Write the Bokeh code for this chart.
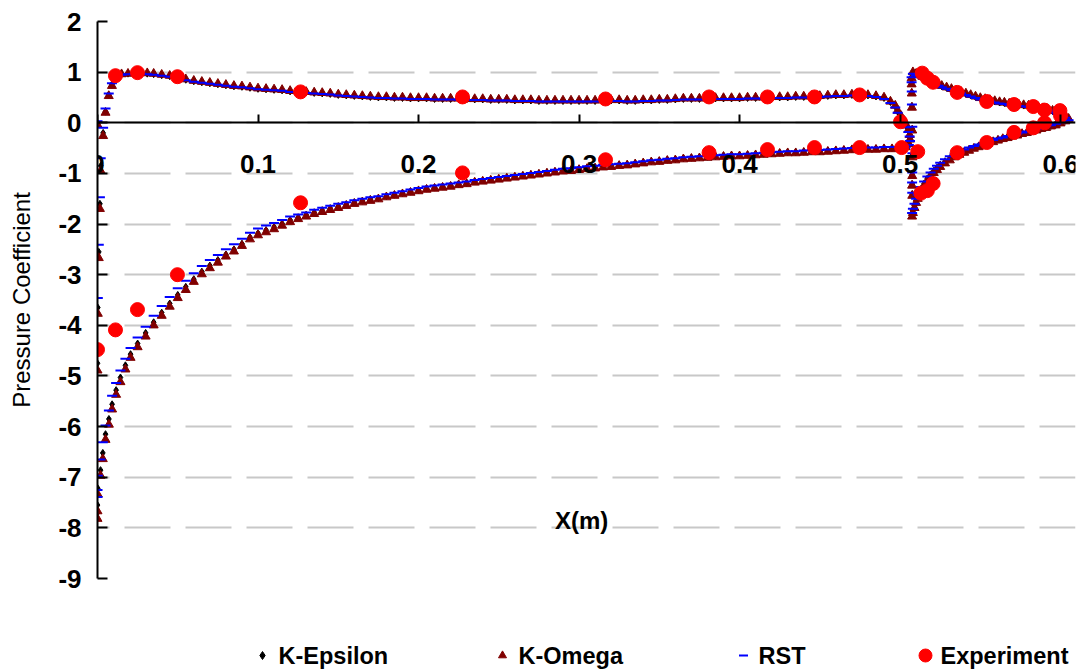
from bokeh.plotting import figure
from bokeh.models import Range1d, FixedTicker, Label
from bokeh.layouts import column
from bokeh.embed import file_html
from bokeh.resources import INLINE
from bokeh.core.properties import value

# ---------------------------------------------------------------------------
# Pressure coefficient along the main element and the flap (x in metres)
# ---------------------------------------------------------------------------

series_names = ["K-Epsilon", "K-Omega", "RST", "Experiment"]

x_ticks = [0, 0.1, 0.2, 0.3, 0.4, 0.5, 0.6]
x_tick_labels = ["0", "0.1", "0.2", "0.3", "0.4", "0.5", "0.6"]
y_ticks = [-9, -8, -7, -6, -5, -4, -3, -2, -1, 0, 1, 2]
y_tick_labels = ["-9", "-8", "-7", "-6", "-5", "-4", "-3", "-2", "-1", "0", "1", "2"]

# main element, pressure side (positive Cp branch)
upper_x = [0.0, 0.005, 0.007, 0.009, 0.012, 0.015, 0.019, 0.023, 0.027, 0.031, 0.035,
           0.04, 0.045, 0.05, 0.055, 0.06, 0.065, 0.07, 0.075, 0.08, 0.085,
           0.09, 0.095, 0.1, 0.105, 0.11, 0.115, 0.12, 0.125, 0.13, 0.135,
           0.14, 0.145, 0.15, 0.155, 0.16, 0.165, 0.17, 0.175, 0.18, 0.185,
           0.19, 0.195, 0.2, 0.205, 0.21, 0.215, 0.22, 0.225, 0.23, 0.235,
           0.24, 0.245, 0.25, 0.255, 0.26, 0.265, 0.27, 0.275, 0.28, 0.285,
           0.29, 0.295, 0.3, 0.305, 0.31, 0.315, 0.32, 0.325, 0.33, 0.335,
           0.34, 0.345, 0.35, 0.355, 0.36, 0.365, 0.37, 0.375, 0.38, 0.385,
           0.39, 0.395, 0.4, 0.405, 0.41, 0.415, 0.42, 0.425, 0.43, 0.435,
           0.44, 0.445, 0.45, 0.455, 0.46, 0.465, 0.47, 0.475, 0.48, 0.485,
           0.49, 0.494, 0.497]
kw_upper = [-0.04, 0.20, 0.53, 0.73, 0.93, 0.96, 0.97, 0.99, 0.99, 0.98, 0.97,
            0.95, 0.93, 0.90, 0.86, 0.83, 0.81, 0.79, 0.77, 0.75, 0.73,
            0.72, 0.70, 0.68, 0.67, 0.66, 0.65, 0.63, 0.62, 0.61, 0.60,
            0.59, 0.58, 0.56, 0.55, 0.54, 0.53, 0.52, 0.51, 0.51, 0.50,
            0.50, 0.49, 0.49, 0.49, 0.48, 0.48, 0.48, 0.48, 0.47, 0.47,
            0.47, 0.46, 0.46, 0.46, 0.45, 0.45, 0.45, 0.44, 0.44, 0.44,
            0.44, 0.44, 0.44, 0.44, 0.44, 0.45, 0.45, 0.45, 0.44, 0.44,
            0.45, 0.45, 0.46, 0.46, 0.47, 0.48, 0.48, 0.48, 0.49, 0.49,
            0.49, 0.49, 0.49, 0.50, 0.50, 0.50, 0.51, 0.51, 0.51, 0.52,
            0.52, 0.53, 0.53, 0.54, 0.55, 0.55, 0.56, 0.56, 0.55, 0.53,
            0.50, 0.42, 0.34]
rst_upper = [0.03, 0.28, 0.58, 0.78, 0.92, 0.95, 0.96, 0.97, 0.97, 0.96, 0.95,
             0.93, 0.91, 0.88, 0.84, 0.81, 0.79, 0.77, 0.75, 0.73, 0.71,
             0.70, 0.68, 0.66, 0.65, 0.64, 0.63, 0.61, 0.60, 0.59, 0.58,
             0.57, 0.56, 0.54, 0.53, 0.52, 0.51, 0.50, 0.49, 0.49, 0.48,
             0.48, 0.47, 0.47, 0.47, 0.46, 0.46, 0.46, 0.46, 0.45, 0.45,
             0.45, 0.44, 0.44, 0.44, 0.43, 0.43, 0.43, 0.42, 0.42, 0.42,
             0.42, 0.42, 0.42, 0.42, 0.42, 0.43, 0.43, 0.43, 0.42, 0.42,
             0.43, 0.43, 0.44, 0.44, 0.45, 0.46, 0.46, 0.46, 0.47, 0.47,
             0.47, 0.47, 0.47, 0.48, 0.48, 0.48, 0.49, 0.49, 0.49, 0.50,
             0.50, 0.51, 0.51, 0.52, 0.53, 0.53, 0.54, 0.54, 0.53, 0.51,
             0.47, 0.39, 0.30]
ke_upper = [-0.02, 0.22, 0.55, 0.75, 0.93, 0.96, 0.97, 0.98, 0.98, 0.97, 0.96,
            0.94, 0.92, 0.89, 0.85, 0.82, 0.80, 0.78, 0.76, 0.74, 0.72,
            0.71, 0.69, 0.67, 0.66, 0.65, 0.64, 0.62, 0.61, 0.60, 0.59,
            0.58, 0.57, 0.55, 0.54, 0.53, 0.52, 0.51, 0.50, 0.50, 0.49,
            0.49, 0.48, 0.48, 0.48, 0.47, 0.47, 0.47, 0.47, 0.46, 0.46,
            0.46, 0.45, 0.45, 0.45, 0.44, 0.44, 0.44, 0.43, 0.43, 0.43,
            0.43, 0.43, 0.43, 0.43, 0.43, 0.44, 0.44, 0.44, 0.43, 0.43,
            0.44, 0.44, 0.45, 0.45, 0.46, 0.47, 0.47, 0.47, 0.48, 0.48,
            0.48, 0.48, 0.48, 0.49, 0.49, 0.49, 0.50, 0.50, 0.50, 0.51,
            0.51, 0.52, 0.52, 0.53, 0.54, 0.54, 0.55, 0.55, 0.54, 0.52,
            0.49, 0.41, 0.32]

# main element, suction side (leading-edge peak, then recovery)
lower_x = [0.0035, 0.002, 0.0015, 0.0008, 0.0002, 0.0, 0.0, 0.0, 0.0002, 0.0019,
           0.0033, 0.005, 0.0071, 0.0091, 0.0116, 0.0143, 0.0174, 0.0206,
           0.025, 0.03, 0.035, 0.04, 0.045, 0.05, 0.055, 0.06, 0.065, 0.07,
           0.075, 0.08, 0.085, 0.09, 0.095, 0.1, 0.105, 0.11, 0.115, 0.12,
           0.125, 0.13, 0.135, 0.14, 0.145, 0.15, 0.155, 0.16, 0.165, 0.17,
           0.175, 0.18, 0.185, 0.19, 0.195, 0.2, 0.205, 0.21, 0.215, 0.22,
           0.225, 0.23, 0.235, 0.24, 0.245, 0.25, 0.255, 0.26, 0.265, 0.27,
           0.275, 0.28, 0.285, 0.29, 0.295, 0.3, 0.305, 0.31, 0.315, 0.32,
           0.325, 0.33, 0.335, 0.34, 0.345, 0.35, 0.355, 0.36, 0.365, 0.37,
           0.375, 0.38, 0.385, 0.39, 0.395, 0.4, 0.405, 0.41, 0.415, 0.42,
           0.425, 0.43, 0.435, 0.44, 0.445, 0.45, 0.455, 0.46, 0.465, 0.47,
           0.475, 0.48, 0.485, 0.49, 0.495, 0.5]
kw_lower = [-0.26, -0.95, -1.70, -2.67, -3.77, -4.89, -7.82, -7.67, -7.34, -6.97,
            -6.64, -6.26, -5.96, -5.66, -5.37, -5.12, -4.87, -4.64,
            -4.43, -4.22, -4.00, -3.81, -3.63, -3.46, -3.30, -3.14, -2.99, -2.87,
            -2.76, -2.64, -2.54, -2.43, -2.30, -2.22, -2.16, -2.10, -2.03, -1.96,
            -1.90, -1.85, -1.80, -1.76, -1.72, -1.68, -1.64, -1.60, -1.57, -1.54,
            -1.51, -1.47, -1.44, -1.41, -1.38, -1.35, -1.32, -1.30, -1.28, -1.26,
            -1.23, -1.21, -1.18, -1.16, -1.14, -1.12, -1.10, -1.08, -1.06, -1.04,
            -1.02, -1.00, -0.98, -0.96, -0.95, -0.93, -0.91, -0.90, -0.88, -0.87,
            -0.85, -0.84, -0.82, -0.80, -0.78, -0.77, -0.75, -0.74, -0.72, -0.71,
            -0.70, -0.69, -0.68, -0.67, -0.66, -0.66, -0.65, -0.64, -0.63, -0.62,
            -0.61, -0.60, -0.60, -0.59, -0.58, -0.58, -0.57, -0.56, -0.55, -0.54,
            -0.54, -0.53, -0.53, -0.52, -0.52, -0.51]
rst_lower = [-0.10, -0.70, -1.47, -2.41, -3.46, -4.45, -7.39, -7.25, -6.97, -6.65,
             -6.31, -5.98, -5.68, -5.39, -5.14, -4.89, -4.66, -4.45,
             -4.24, -4.03, -3.81, -3.62, -3.44, -3.27, -3.12, -2.97, -2.83, -2.71,
             -2.61, -2.50, -2.40, -2.29, -2.17, -2.09, -2.03, -1.98, -1.92, -1.85,
             -1.81, -1.77, -1.72, -1.68, -1.64, -1.60, -1.57, -1.53, -1.50, -1.47,
             -1.45, -1.41, -1.38, -1.35, -1.32, -1.29, -1.26, -1.24, -1.22, -1.20,
             -1.18, -1.16, -1.13, -1.11, -1.09, -1.07, -1.05, -1.03, -1.01, -0.99,
             -0.97, -0.95, -0.93, -0.91, -0.90, -0.88, -0.86, -0.85, -0.83, -0.82,
             -0.81, -0.80, -0.78, -0.76, -0.74, -0.73, -0.71, -0.70, -0.68, -0.67,
             -0.66, -0.65, -0.64, -0.63, -0.62, -0.62, -0.61, -0.60, -0.59, -0.58,
             -0.57, -0.56, -0.56, -0.55, -0.54, -0.54, -0.53, -0.52, -0.51, -0.50,
             -0.50, -0.49, -0.49, -0.48, -0.48, -0.47]
ke_lower = [-0.20, -0.85, -1.60, -2.55, -3.65, -4.75, -7.70, -7.55, -7.22, -6.86,
            -6.52, -6.15, -5.85, -5.56, -5.28, -5.03, -4.79, -4.57,
            -4.36, -4.15, -3.94, -3.75, -3.57, -3.40, -3.24, -3.09, -2.94, -2.82,
            -2.71, -2.60, -2.50, -2.39, -2.26, -2.18, -2.12, -2.06, -1.99, -1.92,
            -1.87, -1.82, -1.77, -1.73, -1.69, -1.65, -1.61, -1.57, -1.54, -1.51,
            -1.49, -1.45, -1.42, -1.39, -1.36, -1.33, -1.30, -1.28, -1.26, -1.24,
            -1.21, -1.19, -1.16, -1.14, -1.12, -1.10, -1.08, -1.06, -1.04, -1.02,
            -1.00, -0.98, -0.96, -0.94, -0.93, -0.91, -0.89, -0.88, -0.86, -0.85,
            -0.83, -0.82, -0.80, -0.78, -0.76, -0.75, -0.73, -0.72, -0.70, -0.69,
            -0.68, -0.67, -0.66, -0.65, -0.64, -0.64, -0.63, -0.62, -0.61, -0.60,
            -0.59, -0.58, -0.58, -0.57, -0.56, -0.56, -0.55, -0.54, -0.53, -0.52,
            -0.52, -0.51, -0.51, -0.50, -0.50, -0.49]

# main element, blunt trailing edge
te_x = [0.4985, 0.5005, 0.5025, 0.504, 0.5052, 0.506, 0.5062, 0.5055, 0.5035]
kw_te = [0.24, 0.14, 0.04, -0.05, -0.14, -0.24, -0.33, -0.42, -0.48]
rst_te = [0.20, 0.10, 0.00, -0.09, -0.18, -0.27, -0.36, -0.44, -0.49]
ke_te = [0.22, 0.12, 0.02, -0.07, -0.16, -0.25, -0.34, -0.43, -0.48]

# flap leading edge
flap_le_x = [0.5072, 0.5072, 0.5073, 0.5074, 0.5076, 0.5077, 0.5076, 0.5075, 0.5076]
kw_flap_le = [0.88, 0.76, 0.58, 0.30, -0.15, -0.68, -1.05, -1.24, -1.44]
rst_flap_le = [0.90, 0.80, 0.62, 0.36, -0.08, -0.60, -0.98, -1.18, -1.38]
ke_flap_le = [0.89, 0.78, 0.60, 0.33, -0.12, -0.64, -1.02, -1.21, -1.41]

# flap, pressure side
flap_up_x = [0.508, 0.51, 0.512, 0.514, 0.516, 0.518, 0.52, 0.522, 0.524, 0.526,
             0.529, 0.532, 0.535, 0.538, 0.541, 0.544, 0.547, 0.55, 0.553, 0.556,
             0.559, 0.562, 0.565, 0.568, 0.571, 0.574, 0.577, 0.58, 0.583, 0.586,
             0.589, 0.592, 0.595, 0.598, 0.601, 0.603, 0.605]
kw_flap_up = [1.00, 0.97, 0.94, 0.91, 0.88, 0.85, 0.82, 0.79, 0.76, 0.73,
              0.70, 0.67, 0.64, 0.61, 0.58, 0.55, 0.52, 0.49, 0.47, 0.45,
              0.43, 0.41, 0.40, 0.38, 0.37, 0.36, 0.35, 0.34, 0.33, 0.31,
              0.29, 0.27, 0.24, 0.21, 0.17, 0.13, 0.08]
rst_flap_up = [0.97, 0.94, 0.91, 0.88, 0.85, 0.82, 0.79, 0.76, 0.73, 0.70,
               0.67, 0.64, 0.61, 0.58, 0.55, 0.52, 0.49, 0.46, 0.44, 0.42,
               0.40, 0.38, 0.37, 0.35, 0.34, 0.33, 0.32, 0.31, 0.30, 0.28,
               0.26, 0.24, 0.21, 0.18, 0.14, 0.10, 0.05]
ke_flap_up = [0.99, 0.96, 0.93, 0.90, 0.87, 0.84, 0.81, 0.78, 0.75, 0.72,
              0.69, 0.66, 0.63, 0.60, 0.57, 0.54, 0.51, 0.48, 0.46, 0.44,
              0.42, 0.40, 0.39, 0.37, 0.36, 0.35, 0.34, 0.33, 0.32, 0.30,
              0.28, 0.26, 0.23, 0.20, 0.16, 0.12, 0.07]

# flap, suction side
flap_lo_x = [0.5075, 0.508, 0.509, 0.51, 0.511, 0.512, 0.513, 0.515, 0.517, 0.519,
             0.521, 0.523, 0.525, 0.528, 0.531, 0.534, 0.537, 0.54, 0.543, 0.546,
             0.549, 0.552, 0.555, 0.558, 0.561, 0.564, 0.567, 0.57, 0.573, 0.576,
             0.579, 0.582, 0.585, 0.588, 0.591, 0.594, 0.597, 0.6, 0.603]
kw_flap_lo = [-1.85, -1.78, -1.68, -1.58, -1.50, -1.42, -1.35, -1.24, -1.14, -1.06,
              -0.99, -0.93, -0.87, -0.80, -0.74, -0.68, -0.63, -0.59, -0.55, -0.51,
              -0.48, -0.45, -0.41, -0.38, -0.35, -0.32, -0.30, -0.27, -0.25, -0.22,
              -0.20, -0.17, -0.15, -0.12, -0.10, -0.07, -0.05, -0.01, 0.03]
rst_flap_lo = [-1.78, -1.70, -1.60, -1.50, -1.42, -1.34, -1.27, -1.16, -1.06, -0.98,
               -0.91, -0.85, -0.79, -0.72, -0.66, -0.61, -0.57, -0.53, -0.49, -0.46,
               -0.43, -0.40, -0.37, -0.34, -0.31, -0.29, -0.26, -0.24, -0.21, -0.19,
               -0.17, -0.14, -0.12, -0.10, -0.07, -0.05, -0.02, 0.01, 0.05]
ke_flap_lo = [-1.82, -1.74, -1.64, -1.54, -1.46, -1.38, -1.31, -1.20, -1.10, -1.02,
              -0.95, -0.89, -0.83, -0.76, -0.70, -0.65, -0.60, -0.56, -0.52, -0.49,
              -0.46, -0.43, -0.39, -0.36, -0.33, -0.31, -0.28, -0.26, -0.23, -0.21,
              -0.19, -0.16, -0.14, -0.11, -0.09, -0.06, -0.04, 0.00, 0.04]

# wind-tunnel pressure taps
exp_x = [0.0, 0.0112, 0.0249, 0.0498, 0.1265, 0.2274, 0.3165, 0.381, 0.4174, 0.4467,
         0.4748, 0.501, 0.511,
         0.0112, 0.0249, 0.0498, 0.1265, 0.2274, 0.3165, 0.381, 0.4174, 0.4467,
         0.4748, 0.5003,
         0.5138, 0.517, 0.5206, 0.5356, 0.554, 0.571, 0.583, 0.59, 0.5996, 0.6,
         0.59, 0.583, 0.571, 0.554, 0.5356, 0.5206, 0.517, 0.513]
exp_cp = [-4.48, -4.09, -3.69, -3.00, -1.58, -0.99, -0.73, -0.59, -0.53, -0.49,
          -0.49, -0.49, -0.57,
          0.93, 0.99, 0.91, 0.61, 0.51, 0.47, 0.51, 0.51, 0.51,
          0.55, 0.02,
          0.98, 0.88, 0.80, 0.60, 0.42, 0.36, 0.32, 0.25, 0.24, 0.14,
          0.00, -0.10, -0.19, -0.39, -0.59, -1.20, -1.34, -1.39]

segments = [
    (upper_x, ke_upper, kw_upper, rst_upper),
    (lower_x, ke_lower, kw_lower, rst_lower),
    (te_x, ke_te, kw_te, rst_te),
    (flap_le_x, ke_flap_le, kw_flap_le, rst_flap_le),
    (flap_up_x, ke_flap_up, kw_flap_up, rst_flap_up),
    (flap_lo_x, ke_flap_lo, kw_flap_lo, rst_flap_lo),
]
for seg in segments:
    assert all(len(s) == len(seg[0]) for s in seg), [len(s) for s in seg]
assert len(exp_x) == len(exp_cp)

cfd_x, ke_cp, kw_cp, rst_cp = [], [], [], []
for xs, ke, kw, rst in segments:
    cfd_x += xs
    ke_cp += ke
    kw_cp += kw
    rst_cp += rst

FONT = "Liberation Sans"
TICK_SIZE = "26px"
LEFT, RIGHT = 97, 6

# ---------------------------------------------------------------------------
# main chart
# ---------------------------------------------------------------------------
p = figure(width=1081, height=642,
           x_range=Range1d(0, 0.6093), y_range=Range1d(-9, 2),
           output_backend="svg", toolbar_location=None,
           min_border_left=LEFT, min_border_right=RIGHT,
           min_border_top=21, min_border_bottom=64)
p.outline_line_color = None
p.background_fill_color = "white"
p.border_fill_color = "white"

# x axis crosses at Cp = 0
p.xaxis.fixed_location = 0
p.xaxis.ticker = FixedTicker(ticks=x_ticks)
p.xaxis.major_label_overrides = dict(zip(x_ticks, x_tick_labels))
p.xaxis.major_tick_in = 8
p.xaxis.major_tick_out = 0
p.xaxis.major_label_standoff = 32

p.yaxis.ticker = FixedTicker(ticks=y_ticks)
p.yaxis.major_label_overrides = dict(zip(y_ticks, y_tick_labels))
p.yaxis.major_tick_in = 10
p.yaxis.major_tick_out = 0
p.yaxis.major_label_standoff = 16
p.yaxis.axis_label = "Pressure Coefficient"
p.yaxis.axis_label_text_font = FONT
p.yaxis.axis_label_text_font_size = "24px"
p.yaxis.axis_label_text_font_style = "normal"
p.yaxis.axis_label_text_color = "black"
p.yaxis.axis_label_standoff = 20

for ax in (p.xaxis, p.yaxis):
    ax.minor_tick_in = 0
    ax.minor_tick_out = 0
    ax.axis_line_width = 2
    ax.axis_line_color = "black"
    ax.major_tick_line_width = 2
    ax.major_tick_line_color = "black"
    ax.major_label_text_font = FONT
    ax.major_label_text_font_size = TICK_SIZE
    ax.major_label_text_font_style = "bold"
    ax.major_label_text_color = "black"

p.xgrid.visible = False
p.ygrid.grid_line_color = "#C8C8C8"
p.ygrid.grid_line_width = 2
p.ygrid.grid_line_dash = "46 15"
p.ygrid.grid_line_dash_offset = 34

p.scatter(cfd_x, ke_cp, marker="diamond", size=7, color="black")
p.scatter(cfd_x, kw_cp, marker="triangle", size=9, color="#800000")
p.scatter(cfd_x, rst_cp, marker="dash", size=10, line_color="#0000FF", line_width=2)
p.scatter(exp_x, exp_cp, marker="circle", size=14, fill_color="#FF0000", line_color="#FF0000")

p.add_layout(Label(x=0.3016, y=-7.85, text="X(m)",
                   text_align="center", text_baseline="middle",
                   text_font=FONT, text_font_size="24px", text_font_style="bold",
                   text_color="black"))

# ---------------------------------------------------------------------------
# legend strip under the chart (its frame lines up with the chart frame,
# so the x range is expressed in canvas pixels)
# ---------------------------------------------------------------------------
q = figure(width=1081, height=27, x_range=Range1d(LEFT, 1081 - RIGHT), y_range=Range1d(0, 27),
           output_backend="svg", toolbar_location=None,
           x_axis_type=None, y_axis_type=None,
           min_border_left=LEFT, min_border_right=RIGHT, min_border_top=0, min_border_bottom=0)
q.outline_line_color = None
q.grid.visible = False

key_x = [262, 502, 743, 925]
text_x = [278, 518, 758, 940]
row_y = 14
q.scatter([key_x[0]], [row_y], marker="diamond", size=8, color="black")
q.scatter([key_x[1]], [row_y], marker="triangle", size=8, color="#800000")
q.scatter([key_x[2]], [row_y], marker="dash", size=9, line_color="#0000FF", line_width=2)
q.scatter([key_x[3]], [row_y], marker="circle", size=13, fill_color="#FF0000", line_color="#FF0000")
q.text(x=text_x, y=[row_y] * 4, text=series_names,
       text_font=value(FONT), text_font_size="23.5px", text_font_style="bold",
       text_align="left", text_baseline="middle", text_color="black")

layout = column(p, q, spacing=0)
open("out.html", "w").write(file_html(layout, INLINE))
